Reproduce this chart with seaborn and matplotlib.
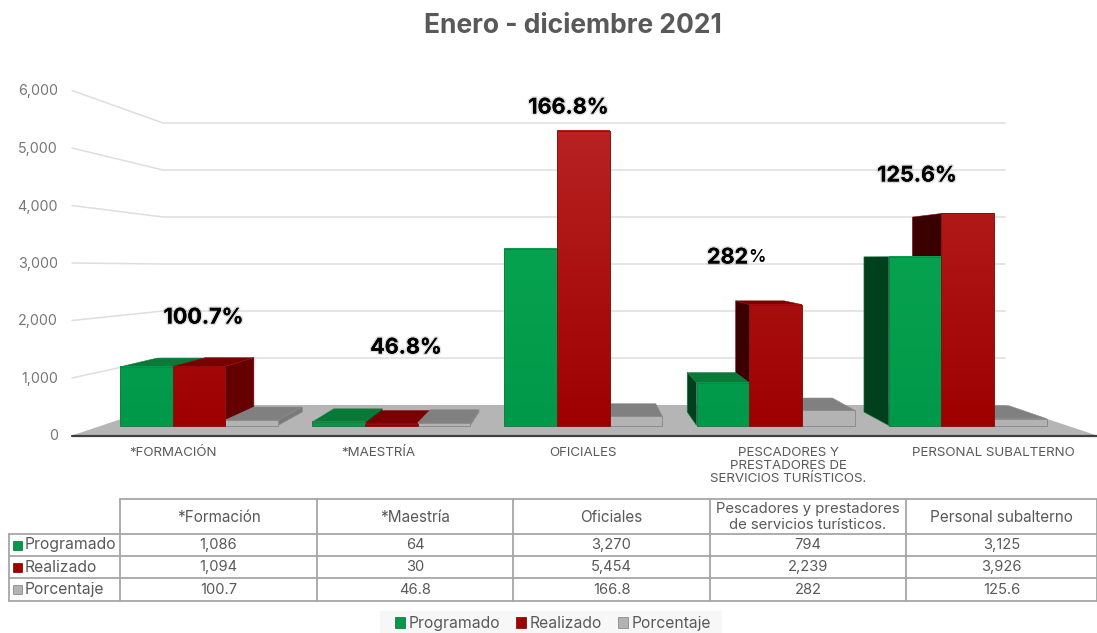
import numpy as np
import pandas as pd
import matplotlib
matplotlib.use("Agg")
import matplotlib.pyplot as plt
import matplotlib.patheffects as pe
from matplotlib.patches import Polygon, Rectangle
import seaborn as sns

# Enero - diciembre 2021: barras con perspectiva, tabla de datos y leyenda

categorias = ["*Formación", "*Maestría", "Oficiales", "Pescadores y prestadores\nde servicios turísticos.", "Personal subalterno"]
etiquetas_eje = ["*FORMACIÓN", "*MAESTRÍA", "OFICIALES", "PESCADORES Y\nPRESTADORES DE\nSERVICIOS TURÍSTICOS.", "PERSONAL SUBALTERNO"]
programado = [1086, 64, 3270, 794, 3125]
realizado = [1094, 30, 5454, 2239, 3926]
porcentaje = [100.7, 46.8, 166.8, 282, 125.6]
texto_porcentaje = ["100.7", "46.8", "166.8", "282", "125.6"]
ticks_y = [0, 1000, 2000, 3000, 4000, 5000, 6000]
series = ["Programado", "Realizado", "Porcentaje"]

sns.set_theme(style="white")
plt.rcParams["font.family"] = ["Inter", "DejaVu Sans"]

GRIS = "#595959"
colores = {"Programado": "#00994a", "Realizado": "#9e0000", "Porcentaje": "#b3b3b3"}
cara_sup = {"Programado": "#067a36", "Realizado": "#7a0000", "Porcentaje": "#808080"}
cara_izq = {"Programado": "#00401c", "Realizado": "#3a0000", "Porcentaje": "#7a7a7a"}
cara_der = {"Programado": "#00401c", "Realizado": "#640000", "Porcentaje": "#7a7a7a"}
borde = {"Programado": "#1c7a48", "Realizado": "#8a1010", "Porcentaje": "#8c8c8c"}
claro = {"Programado": "#0ca852", "Realizado": "#b82222"}

W, H = 1097, 633
fig = plt.figure(figsize=(W / 100, H / 100), dpi=100)

# fondo en pixeles: piso, rejilla, caras laterales, tabla
fondo = fig.add_axes([0, 0, 1, 1], zorder=0)
fondo.set_xlim(0, W)
fondo.set_ylim(H, 0)
fondo.axis("off")

# barras en unidades de datos, plano frontal: 54 px por cada 1000
ax = fig.add_axes([0, 0, 1, 1], zorder=1)
ax.patch.set_alpha(0)
df = pd.DataFrame({
    "categoria": categorias * 3,
    "serie": sum([[s] * 5 for s in series], []),
    "valor": programado + realizado + porcentaje,
})
sns.barplot(data=df, x="categoria", y="valor", hue="serie", hue_order=series, palette=colores,
            width=0.822, gap=0, saturation=1, ax=ax, errorbar=None)

x0_px, paso_px = 199, 192.2
y0_px, esc_y = 425.5, 0.054
xlim = ((0 - x0_px) / paso_px, (W - x0_px) / paso_px)
ylim = ((y0_px - H) / esc_y, y0_px / esc_y)
ax.set_xlim(xlim)
ax.set_ylim(ylim)

# rejilla del fondo y del lateral
for v in ticks_y[1:]:
    y_f = 435.5 - v * 0.0575
    y_b = 405 - v * 0.047
    fondo.plot([72, 163, 1005], [y_f, y_b, y_b], color="#dedede", lw=1.1, zorder=1)
fondo.add_patch(Polygon([(72, 435.5), (163, 405), (1005, 405), (1097, 435.5)], color="#b5b5b5", lw=0, zorder=2))
fondo.plot([72, 1097], [435.5, 435.5], color="#404040", lw=1.6, zorder=6)

for v in ticks_y:
    fondo.text(58, 436.5 - v * 0.0575, f"{v:,}", ha="right", va="center", fontsize=10.3, color="#767676")
for i, t in enumerate(etiquetas_eje):
    fondo.text(173 + 205 * i, 446.5, t, ha="center", va="top", fontsize=9.6, color=GRIS, linespacing=1.14)

# caras en perspectiva a partir de cada barra
VP = (580, 258)
K = 0.0805
def atras(x, y):
    return x + (VP[0] - x) * K, y + (VP[1] - y) * K

barras = []
for j, s in enumerate(series):
    for i, p in enumerate(ax.patches[j * 5:(j + 1) * 5]):
        (xa, yb), (xb, ya) = ax.transData.transform([(p.get_x(), 0), (p.get_x() + p.get_width(), p.get_height())])
        xa, xb, ya, yb = xa, xb, H - ya, H - yb
        barras.append((abs((xa + xb) / 2 - VP[0]), s, xa, xb, ya, yb, p))

n = 0
for _, s, xa, xb, ya, yb, p in sorted(barras, key=lambda b: -b[0]):
    n += 1
    z = 3 + n * 0.01
    if ya > VP[1]:
        fondo.add_patch(Polygon([(xa, ya), (xb, ya), atras(xb, ya), atras(xa, ya)], fc=cara_sup[s], ec=borde[s], lw=0.4, zorder=z))
    if xa > VP[0]:
        fondo.add_patch(Polygon([(xa, ya), atras(xa, ya), atras(xa, yb), (xa, yb)], fc=cara_izq[s], ec=borde[s], lw=0.4, zorder=z))
    if xb < VP[0]:
        fondo.add_patch(Polygon([(xb, ya), atras(xb, ya), atras(xb, yb), (xb, yb)], fc=cara_der[s], ec=borde[s], lw=0.4, zorder=z))
    p.set_edgecolor(borde[s])
    p.set_linewidth(0.7)
    # degradado suave, mas claro en lo alto de las barras grandes
    if s in claro:
        h = p.get_height()
        base = np.array(matplotlib.colors.to_rgb(colores[s]))
        top = np.array(matplotlib.colors.to_rgb(claro[s]))
        t = np.linspace(0, h / 5454, 64)[:, None, None]
        grad = base[None, None, :] * (1 - t) + top[None, None, :] * t
        # la imagen baja un poco de cero para no dejar hueco sobre el borde inferior
        ax.imshow(grad, extent=(p.get_x(), p.get_x() + p.get_width(), -15, h), origin="lower",
                  aspect="auto", interpolation="nearest", zorder=2)
        p.set_facecolor("none")
        p.set_zorder(3)
ax.set_xlim(xlim)
ax.set_ylim(ylim)

# porcentajes sobre las barras
pos_etiquetas = [(203.5, 317.5), (406, 347.5), (568.5, 107.5), (727.5, 257.5), (917, 175.5)]
sombra = [pe.withStroke(linewidth=2.2, foreground="#00000022")]
for i, (x, y) in enumerate(pos_etiquetas):
    if texto_porcentaje[i] == "282":
        ax.text(x, y, "282", ha="center", va="center", fontsize=15.5, fontweight="bold", color="black",
                transform=fondo.transData, path_effects=sombra, zorder=8)
        ax.text(x + 20.5, y + 0.5, "%", ha="left", va="center", fontsize=12.5, color="black", fontweight="semibold",
                transform=fondo.transData, zorder=8)
    else:
        ax.text(x, y, texto_porcentaje[i] + "%", ha="center", va="center", fontsize=15.5, fontweight="bold",
                color="black", transform=fondo.transData, path_effects=sombra, zorder=8)

# tabla de datos
col_x = [120, 317, 513, 710, 906, 1097]
fila_y = [499, 534, 556, 578, 601]
LINEA = "#a6a6a6"
for x in col_x:
    fondo.plot([x, x], [fila_y[0], fila_y[-1]], color=LINEA, lw=1.3, zorder=7)
fondo.plot([9, 9], [fila_y[1], fila_y[-1]], color=LINEA, lw=1.3, zorder=7)
fondo.plot([col_x[0], col_x[-1]], [fila_y[0], fila_y[0]], color=LINEA, lw=1.3, zorder=7)
for y in fila_y[1:]:
    fondo.plot([9, col_x[-1]], [y, y], color=LINEA, lw=1.3, zorder=7)
for i, c in enumerate(categorias):
    cx = (col_x[i] + col_x[i + 1]) / 2
    fondo.text(cx, (fila_y[0] + fila_y[1]) / 2 + 0.5, c, ha="center", va="center",
               fontsize=10.7 if "\n" in c else 11, color=GRIS, linespacing=1.2)
    fila = [f"{programado[i]:,}", f"{realizado[i]:,}", texto_porcentaje[i]]
    for r, t in enumerate(fila):
        fondo.text(cx, (fila_y[r + 1] + fila_y[r + 2]) / 2, t, ha="center", va="center", fontsize=10.6, color=GRIS)
for r, s in enumerate(series):
    ym = (fila_y[r + 1] + fila_y[r + 2]) / 2
    fondo.add_patch(Rectangle((13, ym - 4.5), 9, 9, fc=colores[s], ec=borde[s], lw=0.6, zorder=7))
    fondo.text(25, ym, s, ha="left", va="center", fontsize=11.3, color=GRIS)

fondo.add_patch(Rectangle((380, 611), 342, 22, fc="#f7f7f7", ec="none", zorder=1))
sns.move_legend(ax, "center", bbox_to_anchor=(553 / W, 1 - 623.5 / H), ncol=3, title=None, frameon=False,
                fontsize=11.3, handlelength=0.63, handleheight=0.63, handletextpad=0.2, columnspacing=1.05,
                labelcolor=GRIS)
for h, s in zip(ax.get_legend().get_patches(), series):
    h.set_edgecolor(borde[s])
    h.set_linewidth(0.6)

fondo.text(572.5, 26, "Enero - diciembre 2021", ha="center", va="center", fontsize=19, fontweight="bold", color=GRIS)

ax.set_xlabel("")
ax.set_ylabel("")
ax.axis("off")
fig.savefig("out.png", dpi=100)
